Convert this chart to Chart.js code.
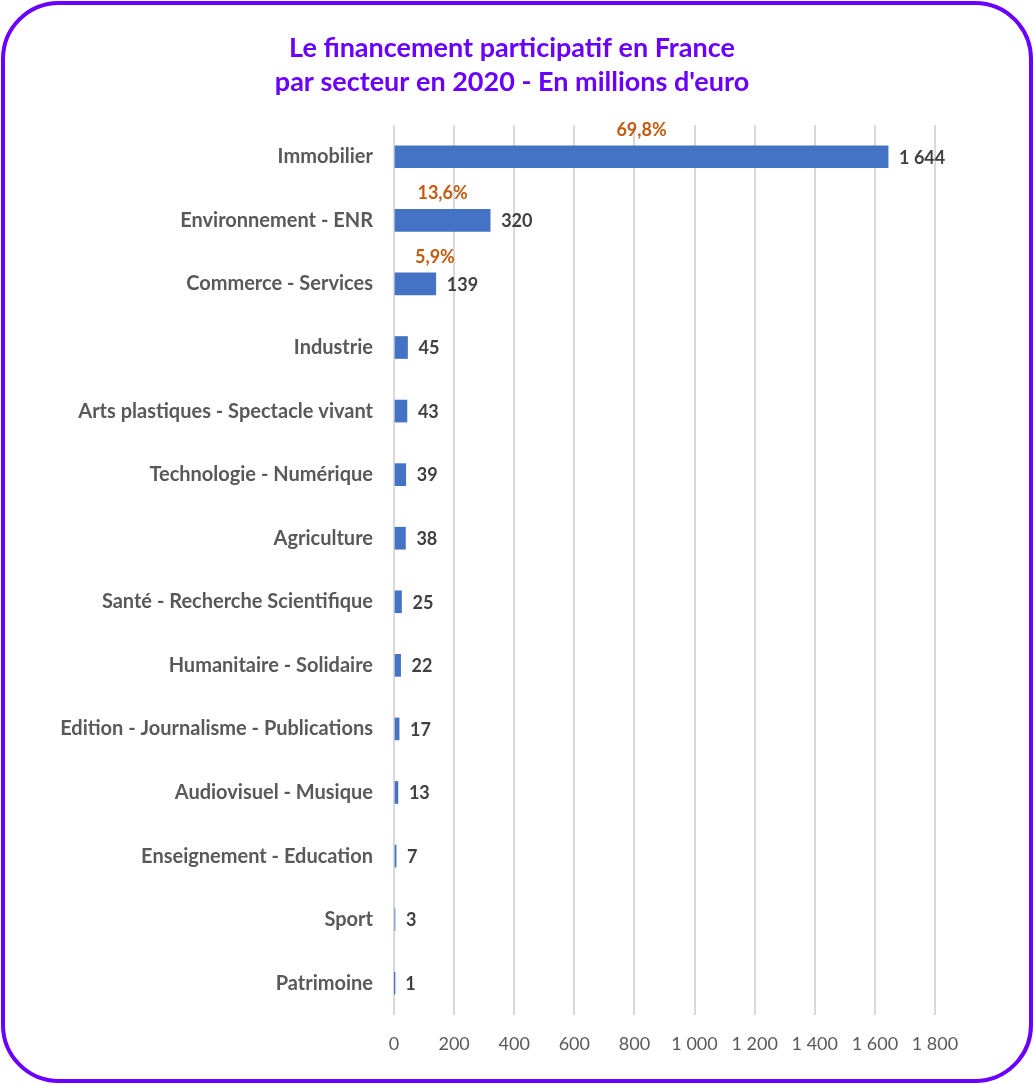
<!DOCTYPE html>
<html>
<head>
<meta charset="utf-8">
<script src="https://cdn.jsdelivr.net/npm/chart.js@4"></script>
<style>
    html, body { margin: 0; padding: 0; background: #fff; }
    #wrap { position: relative; width: 1034px; height: 1084px; }
    #frame {
        position: absolute; left: 1px; top: 1px; right: 1px; bottom: 1px;
        border: 4px solid #6a00ff; border-radius: 58px; pointer-events: none;
    }
</style>
</head>
<body>
<div id="wrap">
    <canvas id="chart-secteur" width="1034" height="1084"></canvas>
    <div id="frame"></div>
</div>
<script>
"use strict";

const titre = ['Le financement participatif en France', 'par secteur en 2020 - En millions d\'euro'];
const secteurs = [
    'Immobilier', 'Environnement - ENR', 'Commerce - Services', 'Industrie',
    'Arts plastiques - Spectacle vivant', 'Technologie - Numérique', 'Agriculture',
    'Santé - Recherche Scientifique', 'Humanitaire - Solidaire',
    'Edition - Journalisme - Publications', 'Audiovisuel - Musique',
    'Enseignement - Education', 'Sport', 'Patrimoine'
];
const montants = [1644, 320, 139, 45, 43, 39, 38, 25, 22, 17, 13, 7, 3, 1];
const parts = ['69,8%', '13,6%', '5,9%', '', '', '', '', '', '', '', '', '', '', ''];
const xTicks = [0, 200, 400, 600, 800, 1000, 1200, 1400, 1600, 1800];

const FONT = 'Lato, "Open Sans", sans-serif';

function fmt(n) {
    return String(n).replace(/\B(?=(\d{3})+(?!\d))/g, ' ');
}

// titre centre sur le cadre
const pageTitle = {
    id: 'pageTitle',
    afterDraw(chart) {
        const ctx = chart.ctx;
        ctx.save();
        ctx.font = 'bold 27px ' + FONT;
        ctx.fillStyle = '#6a00ff';
        ctx.textAlign = 'center';
        ctx.textBaseline = 'middle';
        titre.forEach((line, i) => ctx.fillText(line, chart.width / 2 - 5, 48 + i * 34));
        ctx.restore();
    }
};

const barLabels = {
    id: 'barLabels',
    afterDatasetsDraw(chart) {
        const ctx = chart.ctx;
        const meta = chart.getDatasetMeta(0);
        ctx.save();
        ctx.font = 'bold 18px ' + FONT;
        meta.data.forEach((bar, i) => {
            // valeur a droite de la barre
            ctx.fillStyle = '#404040';
            ctx.textAlign = 'left';
            ctx.textBaseline = 'middle';
            ctx.fillText(fmt(montants[i]), bar.x + 11, bar.y + 1);
            // part en % au dessus
            if (parts[i]) {
                const w = ctx.measureText(parts[i]).width;
                const cx = Math.max((bar.x + bar.base) / 2, bar.base + 20 + w / 2);
                ctx.fillStyle = '#c55a11';
                ctx.textAlign = 'center';
                ctx.fillText(parts[i], cx, bar.y - 27);
            }
        });
        ctx.restore();
    }
};

new Chart(document.getElementById('chart-secteur').getContext('2d'), {
    type: 'bar',
    data: {
        labels: secteurs,
        datasets: [{
            data: montants,
            backgroundColor: '#4472c4',
            barThickness: 22,
        }]
    },
    options: {
        indexAxis: 'y',
        responsive: false,
        animation: false,
        layout: {
            padding: { top: 125, right: 99, bottom: 0, left: 0 }
        },
        plugins: {
            legend: { display: false },
            tooltip: { enabled: false },
            title: { display: false }
        },
        scales: {
            x: {
                min: 0,
                max: 1800,
                afterBuildTicks: (scale) => {
                    scale.ticks = xTicks.map(v => ({ value: v }));
                },
                afterFit: (scale) => { scale.height = 69; },
                grid: { color: '#d9d9d9', lineWidth: 2, drawTicks: false },
                border: { display: false },
                ticks: {
                    color: '#595959',
                    padding: 18,
                    font: { family: FONT, size: 18 },
                    callback: (v) => fmt(v),
                }
            },
            y: {
                afterFit: (scale) => { scale.width = 394; },
                grid: { display: false, drawTicks: false },
                border: { display: false },
                ticks: {
                    color: '#595959',
                    padding: 21,
                    font: { family: FONT, size: 20, weight: 'bold' },
                }
            }
        }
    },
    plugins: [barLabels, pageTitle]
});
</script>
</body>
</html>
